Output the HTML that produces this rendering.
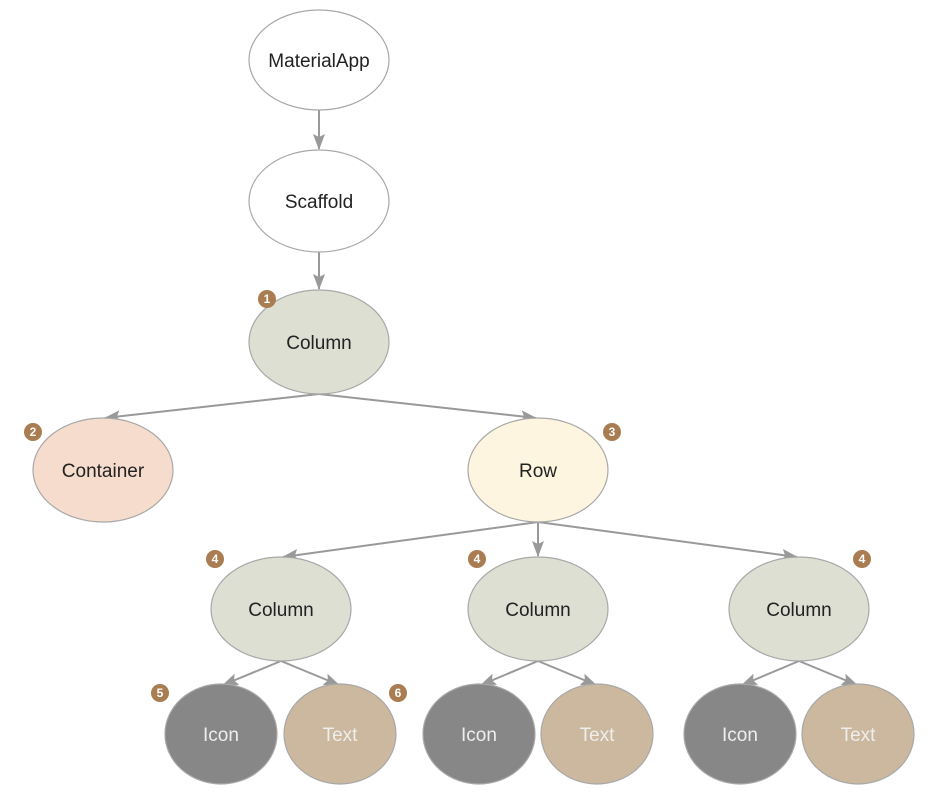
<!DOCTYPE html><html><head><style>body{margin:0;background:#fff}svg{display:block}text{font-family:"Liberation Sans",sans-serif}</style></head><body>
<svg width="932" height="796" viewBox="0 0 932 796" xmlns="http://www.w3.org/2000/svg">
<defs><marker id="a" markerWidth="16" markerHeight="12" refX="15" refY="6" orient="auto" markerUnits="userSpaceOnUse"><path d="M0,0 L16,6 L0,12 L3,6 Z" fill="#999"/></marker></defs>
<g stroke="#999" stroke-width="2" fill="none" marker-end="url(#a)">
<line x1="319" y1="110" x2="319" y2="149"/>
<line x1="319" y1="252" x2="319" y2="289"/>
<line x1="319" y1="394" x2="105" y2="418"/>
<line x1="319" y1="394" x2="536" y2="418"/>
<line x1="538" y1="522" x2="283" y2="557"/>
<line x1="538" y1="522" x2="538" y2="556"/>
<line x1="538" y1="522" x2="797" y2="557"/>
<line x1="281" y1="661" x2="223" y2="685"/>
<line x1="281" y1="661" x2="339" y2="685"/>
<line x1="538" y1="661" x2="481" y2="685"/>
<line x1="538" y1="661" x2="596" y2="685"/>
<line x1="799" y1="661" x2="742" y2="685"/>
<line x1="799" y1="661" x2="857" y2="685"/>
</g>
<g stroke="#a8a8a8" stroke-width="1.2">
<ellipse cx="319" cy="60" rx="70" ry="50" fill="#fff"/>
<ellipse cx="319" cy="201" rx="70" ry="51" fill="#fff"/>
<ellipse cx="319" cy="342" rx="70" ry="52" fill="#dcdfd2"/>
<ellipse cx="103" cy="470" rx="70" ry="52" fill="#f5dccd"/>
<ellipse cx="538" cy="470" rx="70" ry="52" fill="#fdf5df"/>
<ellipse cx="281" cy="609" rx="70" ry="52" fill="#dcdfd2"/>
<ellipse cx="538" cy="609" rx="70" ry="52" fill="#dcdfd2"/>
<ellipse cx="799" cy="609" rx="70" ry="52" fill="#dcdfd2"/>
<ellipse cx="221" cy="734" rx="56" ry="50" fill="#878787"/>
<ellipse cx="340" cy="734" rx="56" ry="50" fill="#cbb89e"/>
<ellipse cx="479" cy="734" rx="56" ry="50" fill="#878787"/>
<ellipse cx="597" cy="734" rx="56" ry="50" fill="#cbb89e"/>
<ellipse cx="740" cy="734" rx="56" ry="50" fill="#878787"/>
<ellipse cx="858" cy="734" rx="56" ry="50" fill="#cbb89e"/>
</g>
<g font-size="19" text-anchor="middle" fill="#222">
<text x="319" y="67">MaterialApp</text>
<text x="319" y="208">Scaffold</text>
<text x="319" y="349">Column</text>
<text x="103" y="477">Container</text>
<text x="538" y="477">Row</text>
<text x="281" y="616">Column</text>
<text x="538" y="616">Column</text>
<text x="799" y="616">Column</text>
</g>
<g font-size="19" text-anchor="middle" fill="#eee">
<text x="221" y="741">Icon</text><text x="340" y="741">Text</text>
<text x="479" y="741">Icon</text><text x="597" y="741">Text</text>
<text x="740" y="741">Icon</text><text x="858" y="741">Text</text>
</g>
<g fill="#a97c52">
<circle cx="267" cy="299" r="9"/><circle cx="33" cy="432" r="9"/><circle cx="612" cy="432" r="9"/>
<circle cx="215" cy="559" r="9"/><circle cx="477" cy="559" r="9"/><circle cx="862" cy="559" r="9"/>
<circle cx="160" cy="693" r="9"/><circle cx="398" cy="693" r="9"/>
</g>
<g font-size="12" font-weight="bold" fill="#fff" text-anchor="middle">
<text x="267" y="303">1</text><text x="33" y="436">2</text><text x="612" y="436">3</text>
<text x="215" y="563">4</text><text x="477" y="563">4</text><text x="862" y="563">4</text>
<text x="160" y="697">5</text><text x="398" y="697">6</text>
</g>
</svg></body></html>
